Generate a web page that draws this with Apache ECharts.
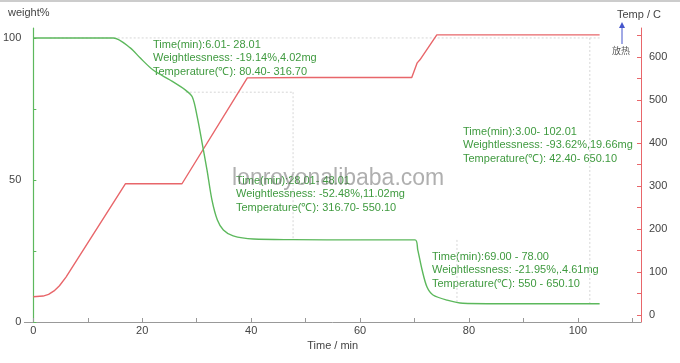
<!DOCTYPE html>
<html><head><meta charset="utf-8">
<script src="https://cdn.jsdelivr.net/npm/echarts@6/dist/echarts.min.js"></script>
<style>html,body{margin:0;padding:0;background:#fff}#c{width:680px;height:363px}</style>
</head><body><div id="c"></div>
<script>
// Weight % curve (time min, weight %)
const weightTime = [0, 3, 10, 14.7, 17.8, 19.6, 22.0, 25.1, 27.9, 29.2, 30.1, 31.0, 31.9, 32.8, 33.8, 34.9, 36.7, 40.4, 47.7, 60, 70.1, 70.6, 71.4, 72.3, 73.4, 76.0, 78.9, 90, 104];
const weightPct  = [100, 100, 100, 100, 96.5, 93.0, 88.7, 85.2, 81.7, 79.2, 72.2, 63.0, 53.5, 43.0, 35.9, 32.4, 30.3, 29.2, 29.0, 28.9, 28.9, 25.4, 18.3, 12.3, 9.5, 7.7, 6.6, 6.4, 6.4];
// Temperature curve (time min, °C)
const tempTime = [0, 1.8, 2.8, 3.8, 4.8, 6.0, 16.9, 27.3, 39.3, 50, 60, 69.5, 70.5, 71.0, 74.1, 90, 104];
const tempC    = [42.4, 44, 48, 56, 68, 88, 305, 305, 551, 552, 552, 552, 586, 593, 651, 651, 651];
// Axis ticks
const xLabels = [0, 20, 40, 60, 80, 100];
const xTicks = [0, 10, 20, 30, 40, 50, 60, 70, 80, 90, 100, 110];
const wLabels = [0, 50, 100];
const wTicks = [0, 25, 50, 75, 100];
const tLabels = [0, 100, 200, 300, 400, 500, 600];
const tTicks = [0, 50, 100, 150, 200, 250, 300, 350, 400, 450, 500, 550, 600, 650];
// Dotted analysis guide segments [t, weight%]
const guideSegs = [
  [[3, 100], [104, 100]],
  [[28.0, 80.9], [47.7, 80.9]],
  [[47.7, 80.9], [47.7, 29.0]],
  [[77.8, 28.9], [77.8, 6.5]],
  [[102.2, 100], [102.2, 6.5]]
];
// Annotation texts
const notes = [
  ["Time(min):6.01- 28.01", "Weightlessness: -19.14%,4.02mg", "Temperature(℃): 80.40- 316.70"],
  ["Time(min):28.01- 48.01", "Weightlessness: -52.48%,11.02mg", "Temperature(℃): 316.70- 550.10"],
  ["Time(min):3.00- 102.01", "Weightlessness: -93.62%,19.66mg", "Temperature(℃): 42.40- 650.10"],
  ["Time(min):69.00 - 78.00", "Weightlessness: -21.95%,.4.61mg", "Temperature(℃): 550 - 650.10"]
];
const notePos = [[153, 39], [236, 175], [463, 126], [432, 251]];

const guideData = [];
guideSegs.forEach(s => { guideData.push(s[0], s[1], [null, null]); });

const chart = echarts.init(document.getElementById('c'));
const green = '#5cb85c', red = '#e8666a', txtGreen = '#3f9a3f';
const graphics = [];
notes.forEach((n, i) => {
  n.forEach((line, j) => {
    graphics.push({type: 'text', left: notePos[i][0], top: notePos[i][1] + j * 13.5,
      style: {text: line, fill: txtGreen, font: '11px "Liberation Sans Narrow", "Liberation Sans", sans-serif'}});
  });
});
graphics.push(
  {type: 'text', left: 232, top: 167, style: {text: 'lonroyonalibaba.com', fill: 'rgba(110,110,110,0.55)', font: '23px "Liberation Sans", Arial, sans-serif'}},
  {type: 'text', left: 8, top: 7, style: {text: 'weight%', fill: '#444', font: '11px "Liberation Sans", Arial, sans-serif'}},
  {type: 'text', left: 617, top: 9, style: {text: 'Temp / C', fill: '#444', font: '11px "Liberation Sans", Arial, sans-serif'}},
  {type: 'line', shape: {x1: 622, y1: 44, x2: 622, y2: 24}, style: {stroke: '#4455cc', lineWidth: 1}},
  {type: 'polygon', shape: {points: [[619, 28], [625, 28], [622, 22]]}, style: {fill: '#4455cc'}},
  {type: 'text', left: 612, top: 46, style: {text: '放热', fill: '#555', font: '9px "Noto Sans CJK SC", sans-serif'}},
  {type: 'line', shape: {x1: 0, y1: 1, x2: 680, y2: 1}, style: {stroke: '#ccc', lineWidth: 2}}
);

chart.setOption({
  animation: false,
  backgroundColor: '#fff',
  grid: {left: 24, right: 39, top: 28, bottom: 41},
  xAxis: {
    type: 'value', min: -1.65, max: 111.6,
    name: 'Time / min', nameLocation: 'middle', nameGap: 14,
    nameTextStyle: {color: '#444', fontSize: 11, fontFamily: 'Liberation Sans'},
    axisLine: {lineStyle: {color: '#999'}},
    axisTick: {inside: true, length: 4, customValues: xTicks, lineStyle: {color: '#999'}},
    axisLabel: {customValues: xLabels, color: '#444', fontSize: 11, margin: 3, fontFamily: 'Liberation Sans'},
    splitLine: {show: false}
  },
  yAxis: [{
    type: 'value', min: 0, max: 103.5, position: 'left',
    axisLine: {show: true, lineStyle: {color: green, width: 1.2}},
    axisTick: {show: true, inside: true, length: 3, customValues: wTicks, lineStyle: {color: green}},
    axisLabel: {customValues: wLabels, color: '#444', fontSize: 11, margin: 3, fontFamily: 'Liberation Sans'},
    splitLine: {show: false}
  }, {
    type: 'value', min: -16.3, max: 667, position: 'right',
    axisLine: {show: true, lineStyle: {color: red, width: 1}},
    axisTick: {show: true, inside: true, length: 4, customValues: tTicks, lineStyle: {color: red}},
    axisLabel: {customValues: tLabels, color: '#444', fontSize: 11, margin: 8, fontFamily: 'Liberation Sans'},
    splitLine: {show: false}
  }],
  series: [{
    type: 'line', yAxisIndex: 0, data: guideData, symbol: 'none', connectNulls: false, silent: true,
    lineStyle: {color: '#d6d6d6', width: 1, type: [2, 2]}, z: 1
  }, {
    type: 'line', yAxisIndex: 0, data: weightTime.map((t, i) => [t, weightPct[i]]), symbol: 'none', smooth: 0.3,
    lineStyle: {color: green, width: 1.4}, z: 3
  }, {
    type: 'line', yAxisIndex: 1, data: tempTime.map((t, i) => [t, tempC[i]]), symbol: 'none', smooth: false,
    lineStyle: {color: red, width: 1.4}, z: 2
  }],
  graphic: graphics
});
</script></body></html>
